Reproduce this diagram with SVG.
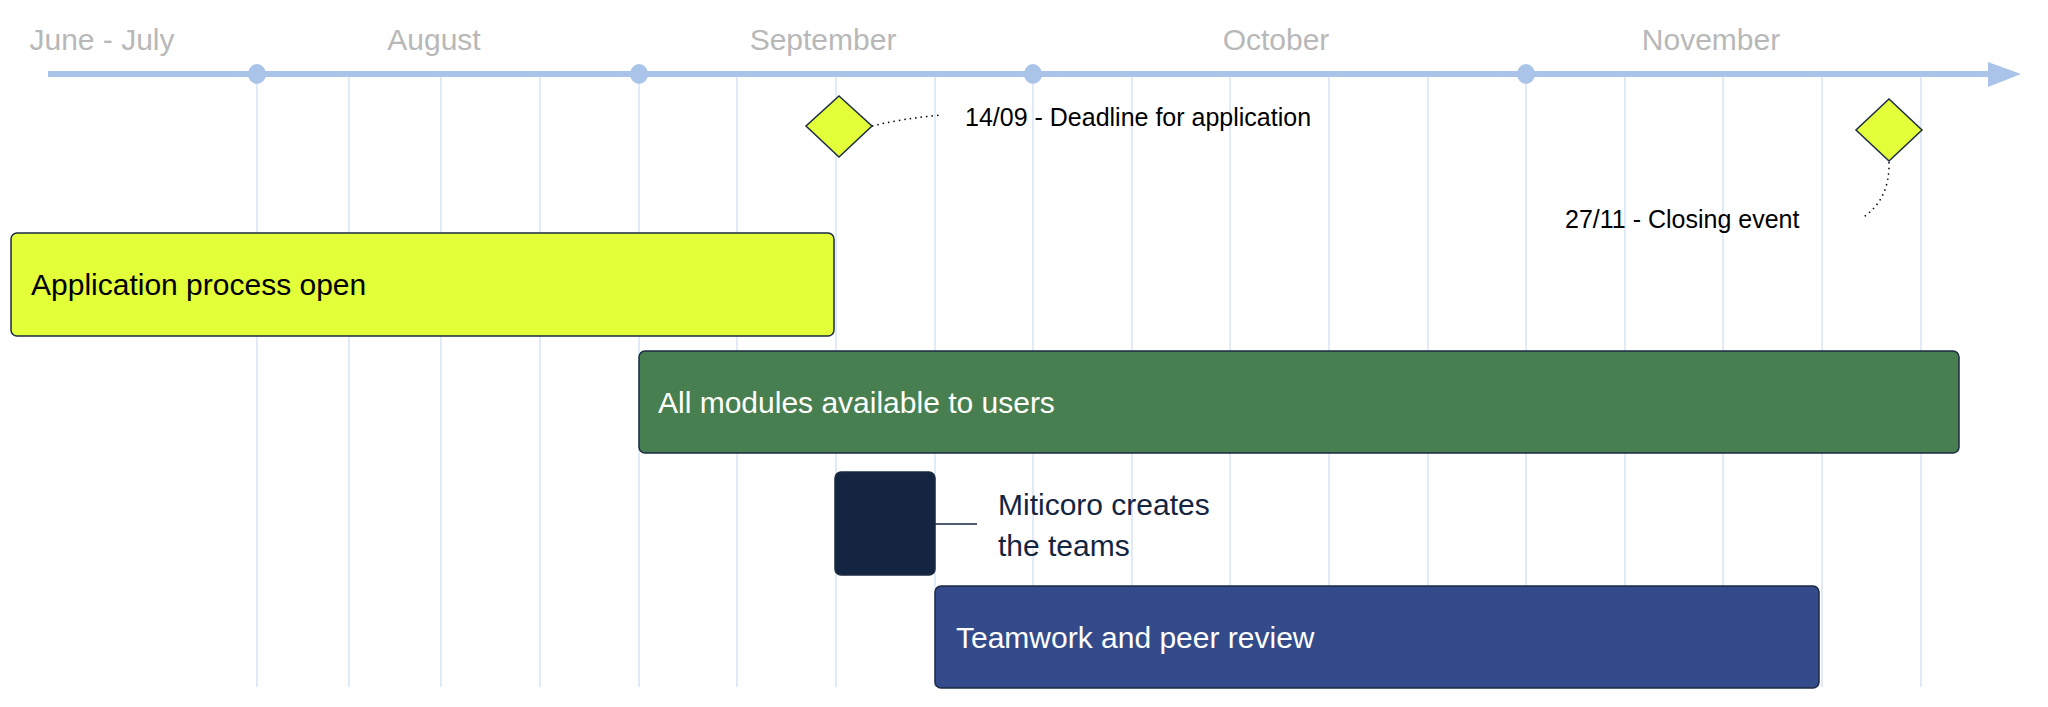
<svg xmlns="http://www.w3.org/2000/svg" width="2048" height="707" viewBox="0 0 2048 707">
<defs>
<style>
.m{font-family:"Liberation Sans",Arial,sans-serif;font-size:30px;fill:#b8b8b8;text-anchor:middle}
.t{font-family:"Liberation Sans",Arial,sans-serif;font-size:25px;fill:#000}
.b{font-family:"Liberation Sans",Arial,sans-serif;font-size:30px}
.g{stroke:#d6e4f5;stroke-width:1.5}
.bar{stroke:#1c2a42;stroke-width:1.5}
.dot{fill:none;stroke:#000;stroke-width:1.5;stroke-dasharray:1.5 4}
</style>
</defs>
<rect width="2048" height="707" fill="#fff"/>
<g id="grid">
<line class="g" x1="257" y1="74" x2="257" y2="687"/>
<line class="g" x1="349" y1="74" x2="349" y2="687"/>
<line class="g" x1="441" y1="74" x2="441" y2="687"/>
<line class="g" x1="540" y1="74" x2="540" y2="687"/>
<line class="g" x1="639" y1="74" x2="639" y2="687"/>
<line class="g" x1="737" y1="74" x2="737" y2="687"/>
<line class="g" x1="836" y1="74" x2="836" y2="687"/>
<line class="g" x1="935" y1="74" x2="935" y2="687"/>
<line class="g" x1="1033" y1="74" x2="1033" y2="687"/>
<line class="g" x1="1132" y1="74" x2="1132" y2="687"/>
<line class="g" x1="1230" y1="74" x2="1230" y2="687"/>
<line class="g" x1="1329" y1="74" x2="1329" y2="687"/>
<line class="g" x1="1428" y1="74" x2="1428" y2="687"/>
<line class="g" x1="1526" y1="74" x2="1526" y2="687"/>
<line class="g" x1="1625" y1="74" x2="1625" y2="687"/>
<line class="g" x1="1723" y1="74" x2="1723" y2="687"/>
<line class="g" x1="1822" y1="74" x2="1822" y2="687"/>
<line class="g" x1="1921" y1="74" x2="1921" y2="687"/>
</g>
<g id="axis">
<line x1="48" y1="74" x2="1990" y2="74" stroke="#a9c4e8" stroke-width="6"/>
<polygon points="1988,62 2021,74 1988,87" fill="#a9c4e8"/>
<ellipse cx="257" cy="74" rx="9" ry="10" fill="#a9c4e8"/>
<ellipse cx="639" cy="74" rx="9" ry="10" fill="#a9c4e8"/>
<ellipse cx="1033" cy="74" rx="9" ry="10" fill="#a9c4e8"/>
<ellipse cx="1526" cy="74" rx="9" ry="10" fill="#a9c4e8"/>
<text class="m" x="102" y="50">June - July</text>
<text class="m" x="434" y="50">August</text>
<text class="m" x="823" y="50">September</text>
<text class="m" x="1276" y="50">October</text>
<text class="m" x="1711" y="50">November</text>
</g>
<g id="connectors">
<path class="dot" d="M872,126 Q905,118 942,115"/>
<path class="dot" d="M1889,162 Q1890,200 1862,218"/>
<line x1="935" y1="524" x2="977" y2="524" stroke="#132540" stroke-width="1.5"/>
</g>
<g id="deadline">
<polygon points="839,96 872,126 839,157 806,126" fill="#e2ff39" stroke="#1c2a42" stroke-width="1.5"/>
<text class="t" x="965" y="126">14/09 - Deadline for application</text>
</g>
<g id="closing">
<polygon points="1889,99 1922,130 1889,161 1856,130" fill="#e2ff39" stroke="#1c2a42" stroke-width="1.5"/>
<text class="t" x="1565" y="228">27/11 - Closing event</text>
</g>
<g id="application">
<rect class="bar" x="11" y="233" width="823" height="103" rx="6" fill="#e2ff39"/>
<text class="b" x="31" y="295" fill="#000">Application process open</text>
</g>
<g id="modules">
<rect class="bar" x="639" y="351" width="1320" height="102" rx="6" fill="#487f50"/>
<text class="b" x="658" y="413" fill="#fff">All modules available to users</text>
</g>
<g id="teams">
<rect class="bar" x="835" y="472" width="100" height="103" rx="6" fill="#132540"/>
<text class="b" x="998" y="515" fill="#132540">Miticoro creates</text>
<text class="b" x="998" y="556" fill="#132540">the teams</text>
</g>
<g id="teamwork">
<rect class="bar" x="935" y="586" width="884" height="102" rx="6" fill="#334b8b"/>
<text class="b" x="956" y="648" fill="#fff">Teamwork and peer review</text>
</g>
</svg>
